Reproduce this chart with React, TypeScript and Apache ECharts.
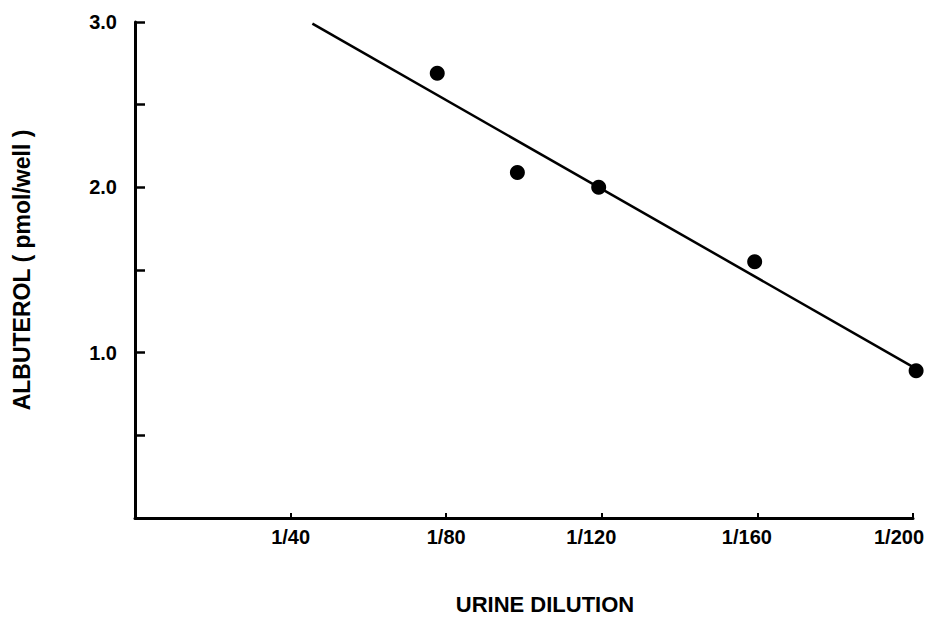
import React, { useEffect, useRef } from "react";
import * as echarts from "echarts";

// Measured points: urine dilution factor (1/x) vs albuterol (pmol/well)
const dilution = [77.7, 98.3, 119.2, 159.3, 200.8];
const albuterol = [2.69, 2.09, 2.0, 1.55, 0.89];

// Fitted regression line end points
const fitDilution = [45.6, 200.3];
const fitAlbuterol = [2.99, 0.91];

const xTicks = [40, 80, 120, 160, 200];
const yTickLabels = ["1.0", "2.0", "3.0"];

const FONT = '"Liberation Sans", Arial, Helvetica, sans-serif';

const labelFont = {
  fontFamily: FONT,
  fontWeight: "bold" as const,
  fontSize: 20,
  color: "#000",
};

export default function App() {
  const ref = useRef<HTMLDivElement>(null);

  useEffect(() => {
    if (!ref.current) return;
    const chart = echarts.init(ref.current, null, { renderer: "svg" });
    chart.setOption({
      animation: false,
      backgroundColor: "#ffffff",
      grid: {
        left: 135,
        right: 16,
        top: 22,
        bottom: 102,
        containLabel: false,
        outerBoundsMode: "none",
      },
      xAxis: {
        type: "value",
        min: 0,
        max: 200,
        interval: 40,
        name: "URINE DILUTION",
        nameLocation: "middle",
        nameGap: 75,
        nameTextStyle: {
          fontFamily: FONT,
          fontWeight: "bold",
          fontSize: 22,
          color: "#000",
          padding: [0, 0, 0, 42],
        },
        axisLine: { show: true, lineStyle: { color: "#000", width: 3 } },
        axisTick: { show: true, inside: true, length: 5, lineStyle: { color: "#000", width: 2 } },
        splitLine: { show: false },
        axisLabel: {
          margin: 9,
          ...labelFont,
          hideOverlap: false,
          formatter: (v: number) => {
            if (!xTicks.includes(v)) return "";
            if (v === 200) return "{e|1/" + v + "}";
            if (v >= 120) return "{m|1/" + v + "}";
            return "1/" + v;
          },
          rich: {
            m: { ...labelFont, padding: [0, 21, 0, 0] },
            e: { ...labelFont, padding: [0, 28, 0, 0] },
          },
        },
      },
      yAxis: {
        type: "value",
        min: 0,
        max: 3,
        interval: 0.5,
        name: "ALBUTEROL ( pmol/well )",
        nameLocation: "middle",
        nameGap: 102,
        nameTextStyle: {
          fontFamily: FONT,
          fontWeight: "bold",
          fontSize: 23,
          color: "#000",
        },
        axisLine: { show: true, lineStyle: { color: "#000", width: 3 } },
        axisTick: { show: true, inside: true, length: 10, lineStyle: { color: "#000", width: 2.5 } },
        splitLine: { show: false },
        axisLabel: {
          margin: 18,
          ...labelFont,
          formatter: (v: number) => {
            const s = v.toFixed(1);
            return yTickLabels.includes(s) ? s : "";
          },
        },
      },
      series: [
        {
          type: "line",
          data: fitDilution.map((x, i) => [x, fitAlbuterol[i]]),
          showSymbol: false,
          symbol: "none",
          lineStyle: { color: "#000", width: 2.5 },
          clip: false,
          z: 2,
        },
        {
          type: "scatter",
          data: dilution.map((x, i) => [x, albuterol[i]]),
          symbol: "circle",
          symbolSize: 15,
          itemStyle: { color: "#000", opacity: 1 },
          clip: false,
          z: 3,
        },
      ],
    });
    return () => chart.dispose();
  }, []);

  return (
    <div
      ref={ref}
      style={{ position: "fixed", left: 0, top: 0, width: 929, height: 620, background: "#fff" }}
    />
  );
}
